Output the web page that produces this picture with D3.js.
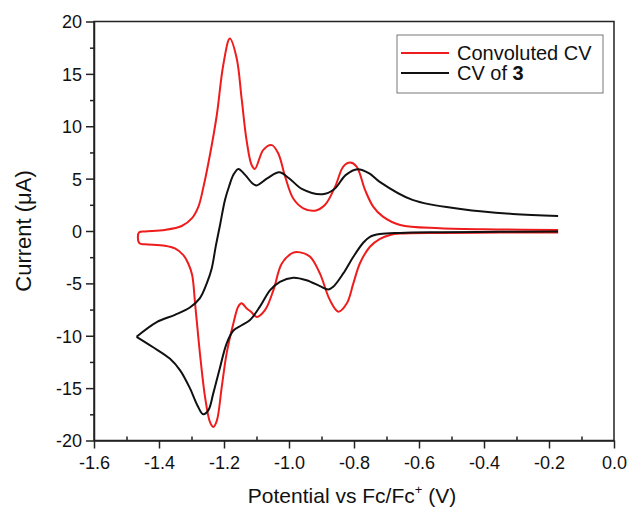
<!DOCTYPE html>
<html>
<head>
<meta charset="utf-8">
<script src="https://cdn.jsdelivr.net/npm/d3@7"></script>
<style>
  body { margin: 0; background: #fff; }
  svg text { font-family: "Liberation Sans", Arial, sans-serif; fill: #111; }
</style>
</head>
<body>
<div id="chart"></div>
<script>
// axis ticks
var xMajorTicks = [-1.6, -1.4, -1.2, -1.0, -0.8, -0.6, -0.4, -0.2, 0.0];
var xMinorTicks = [-1.5, -1.3, -1.1, -0.9, -0.7, -0.5, -0.3, -0.1];
var yMajorTicks = [-20, -15, -10, -5, 0, 5, 10, 15, 20];
var yMinorTicks = [-17.5, -12.5, -7.5, -2.5, 2.5, 7.5, 12.5, 17.5];

// convoluted CV, cathodic branch (right to left, then the hook)
var convBackE = [-0.172, -0.351, -0.535, -0.658, -0.689, -0.72, -0.751, -0.782, -0.802, -0.822, -0.848, -0.874, -0.905, -0.935, -0.966, -0.987, -1.022, -1.048, -1.074, -1.099, -1.117, -1.130, -1.146, -1.156, -1.171, -1.192, -1.207, -1.222, -1.233, -1.243, -1.258, -1.274, -1.289, -1.298, -1.310, -1.325, -1.351, -1.382, -1.443, -1.460, -1.465, -1.461, -1.443];
var convBackI = [-0.15, -0.15, -0.18, -0.25, -0.38, -0.75, -1.5, -3.1, -5.0, -6.9, -7.7, -6.6, -4.05, -2.46, -2.04, -2.07, -3.1, -5.65, -7.56, -8.2, -7.7, -7.4, -6.9, -7.2, -8.8, -11.7, -14.9, -18.1, -18.7, -18.25, -15.9, -11.7, -6.9, -4.2, -3.1, -2.3, -1.66, -1.4, -1.27, -1.18, -0.65, -0.12, -0.04];
// convoluted CV, anodic branch (left to right)
var convFwdE = [-1.443, -1.382, -1.330, -1.299, -1.279, -1.264, -1.243, -1.222, -1.202, -1.182, -1.161, -1.146, -1.130, -1.115, -1.105, -1.079, -1.053, -1.033, -1.012, -0.987, -0.956, -0.920, -0.889, -0.858, -0.833, -0.812, -0.792, -0.766, -0.741, -0.711, -0.658, -0.535, -0.351, -0.172];
var convFwdI = [-0.04, 0.1, 0.48, 1.2, 2.3, 4.1, 7.3, 11.1, 15.9, 18.37, 16.5, 12.7, 8.55, 6.3, 5.93, 7.75, 8.2, 7.4, 5.2, 3.1, 2.17, 1.94, 2.5, 4.24, 6.15, 6.53, 6.15, 3.92, 2.33, 1.37, 0.57, 0.26, 0.15, 0.1];

// CV of 3, cathodic sweep (right to left)
var cvBackE = [-0.172, -0.351, -0.535, -0.658, -0.72, -0.751, -0.771, -0.802, -0.833, -0.864, -0.879, -0.905, -0.946, -0.987, -1.028, -1.058, -1.089, -1.12, -1.146, -1.171, -1.192, -1.212, -1.233, -1.248, -1.264, -1.281, -1.305, -1.335, -1.366, -1.418, -1.469];
var cvBackI = [-0.05, -0.08, -0.12, -0.18, -0.29, -0.55, -1.1, -2.46, -4.05, -5.33, -5.58, -5.26, -4.7, -4.46, -4.85, -5.65, -7.2, -8.5, -9.0, -9.5, -10.75, -13.0, -15.5, -17.1, -17.5, -16.7, -15.0, -13.3, -12.2, -11.1, -10.1];
// CV of 3, anodic sweep (left to right)
var cvFwdE = [-1.469, -1.407, -1.351, -1.305, -1.274, -1.253, -1.238, -1.225, -1.212, -1.197, -1.184, -1.171, -1.156, -1.135, -1.113, -1.100, -1.066, -1.030, -1.000, -0.959, -0.897, -0.861, -0.825, -0.789, -0.753, -0.722, -0.620, -0.466, -0.312, -0.172];
var cvFwdI = [-10.1, -8.7, -8.0, -7.3, -6.4, -5.0, -3.6, -1.4, 0.6, 2.97, 4.3, 5.36, 5.93, 5.36, 4.56, 4.35, 5.04, 5.6, 5.04, 3.99, 3.51, 3.99, 5.36, 5.9, 5.5, 4.72, 2.97, 2.08, 1.63, 1.44];

var seriesNames = ['Convoluted CV', 'CV of '];
var seriesColors = ['#ee1c1c', '#111111'];

var totalW = 628, totalH = 507;
var margin = {top: 21.5, right: 14, bottom: 66.5, left: 94};
var width = totalW - margin.left - margin.right;
var height = totalH - margin.top - margin.bottom;

var svg = d3.select('#chart')
  .append('svg')
  .attr('width', totalW)
  .attr('height', totalH)
  .append('g')
  .attr('transform', 'translate(' + margin.left + ',' + margin.top + ')');

var x = d3.scaleLinear().domain([-1.6, 0]).range([0, width]);
var y = d3.scaleLinear().domain([-20, 20]).range([height, 0]);

function pts(es, is) {
  return es.map(function(e, i) { return [e, is[i]]; });
}

var line = d3.line()
  .x(function(d) { return x(d[0]); })
  .y(function(d) { return y(d[1]); })
  .curve(d3.curveCatmullRom.alpha(0.5));

// axes (major ticks out, minor ticks on x point inward)
var xAxis = svg.append('g')
  .attr('transform', 'translate(0,' + height + ')')
  .call(d3.axisBottom(x).tickValues(xMajorTicks).tickSize(8).tickSizeOuter(0)
    .tickFormat(function(d) { return d.toFixed(1); }));
svg.append('g')
  .attr('transform', 'translate(0,' + height + ')')
  .call(d3.axisBottom(x).tickValues(xMinorTicks).tickSize(-4).tickFormat(''))
  .select('.domain').remove();

var yAxis = svg.append('g')
  .call(d3.axisLeft(y).tickValues(yMajorTicks).tickSize(8).tickSizeOuter(0)
    .tickFormat(function(d) { return String(d); }));
svg.append('g')
  .call(d3.axisLeft(y).tickValues(yMinorTicks).tickSize(4).tickFormat(''))
  .select('.domain').remove();

svg.selectAll('.tick line').attr('stroke', '#222').attr('stroke-width', 1.5);
svg.selectAll('.domain').attr('stroke', '#222').attr('stroke-width', 1.5);
xAxis.selectAll('.tick text').attr('font-size', 18).attr('dy', '1em').attr('y', 10);
yAxis.selectAll('.tick text').attr('font-size', 18).attr('x', -12).attr('dy', '0.36em');

// frame
svg.append('rect')
  .attr('width', width)
  .attr('height', height)
  .attr('fill', 'none')
  .attr('stroke', '#222')
  .attr('stroke-width', 1.5);

// curves
svg.append('path')
  .datum(pts(convBackE, convBackI).concat(pts(convFwdE, convFwdI).slice(1)))
  .attr('d', line)
  .attr('fill', 'none')
  .attr('stroke', seriesColors[0])
  .attr('stroke-width', 2);

svg.append('path')
  .datum(pts(cvBackE, cvBackI))
  .attr('d', line)
  .attr('fill', 'none')
  .attr('stroke', seriesColors[1])
  .attr('stroke-width', 2);
svg.append('path')
  .datum(pts(cvFwdE, cvFwdI))
  .attr('d', line)
  .attr('fill', 'none')
  .attr('stroke', seriesColors[1])
  .attr('stroke-width', 2);

// axis titles
svg.append('text')
  .attr('transform', 'translate(' + (-63) + ',' + (height / 2) + ') rotate(-90)')
  .attr('text-anchor', 'middle')
  .attr('font-size', 22)
  .text('Current (\u03bcA)');

var xt = svg.append('text')
  .attr('x', width / 2 - 2)
  .attr('y', height + 62)
  .attr('text-anchor', 'middle')
  .attr('font-size', 21);
xt.append('tspan').text('Potential vs Fc/Fc');
xt.append('tspan').attr('font-size', 13).attr('dy', -9).text('+');
xt.append('tspan').attr('dy', 9).text(' (V)');

// legend
var lg = svg.append('g')
  .attr('transform', 'translate(' + (397 - margin.left) + ',' + (35 - margin.top) + ')');
lg.append('rect')
  .attr('width', 206)
  .attr('height', 58)
  .attr('fill', '#fff')
  .attr('stroke', '#777')
  .attr('stroke-width', 1);
seriesNames.forEach(function(name, i) {
  var ly = 18 + i * 20;
  lg.append('line')
    .attr('x1', 4).attr('x2', 52)
    .attr('y1', ly).attr('y2', ly)
    .attr('stroke', seriesColors[i])
    .attr('stroke-width', 2);
  var t = lg.append('text')
    .attr('x', 60)
    .attr('y', ly + 7)
    .attr('font-size', 20)
    .text(name);
  if (i == 1) {
    t.append('tspan').attr('font-weight', 'bold').text('3');
  }
});
</script>
</body>
</html>
